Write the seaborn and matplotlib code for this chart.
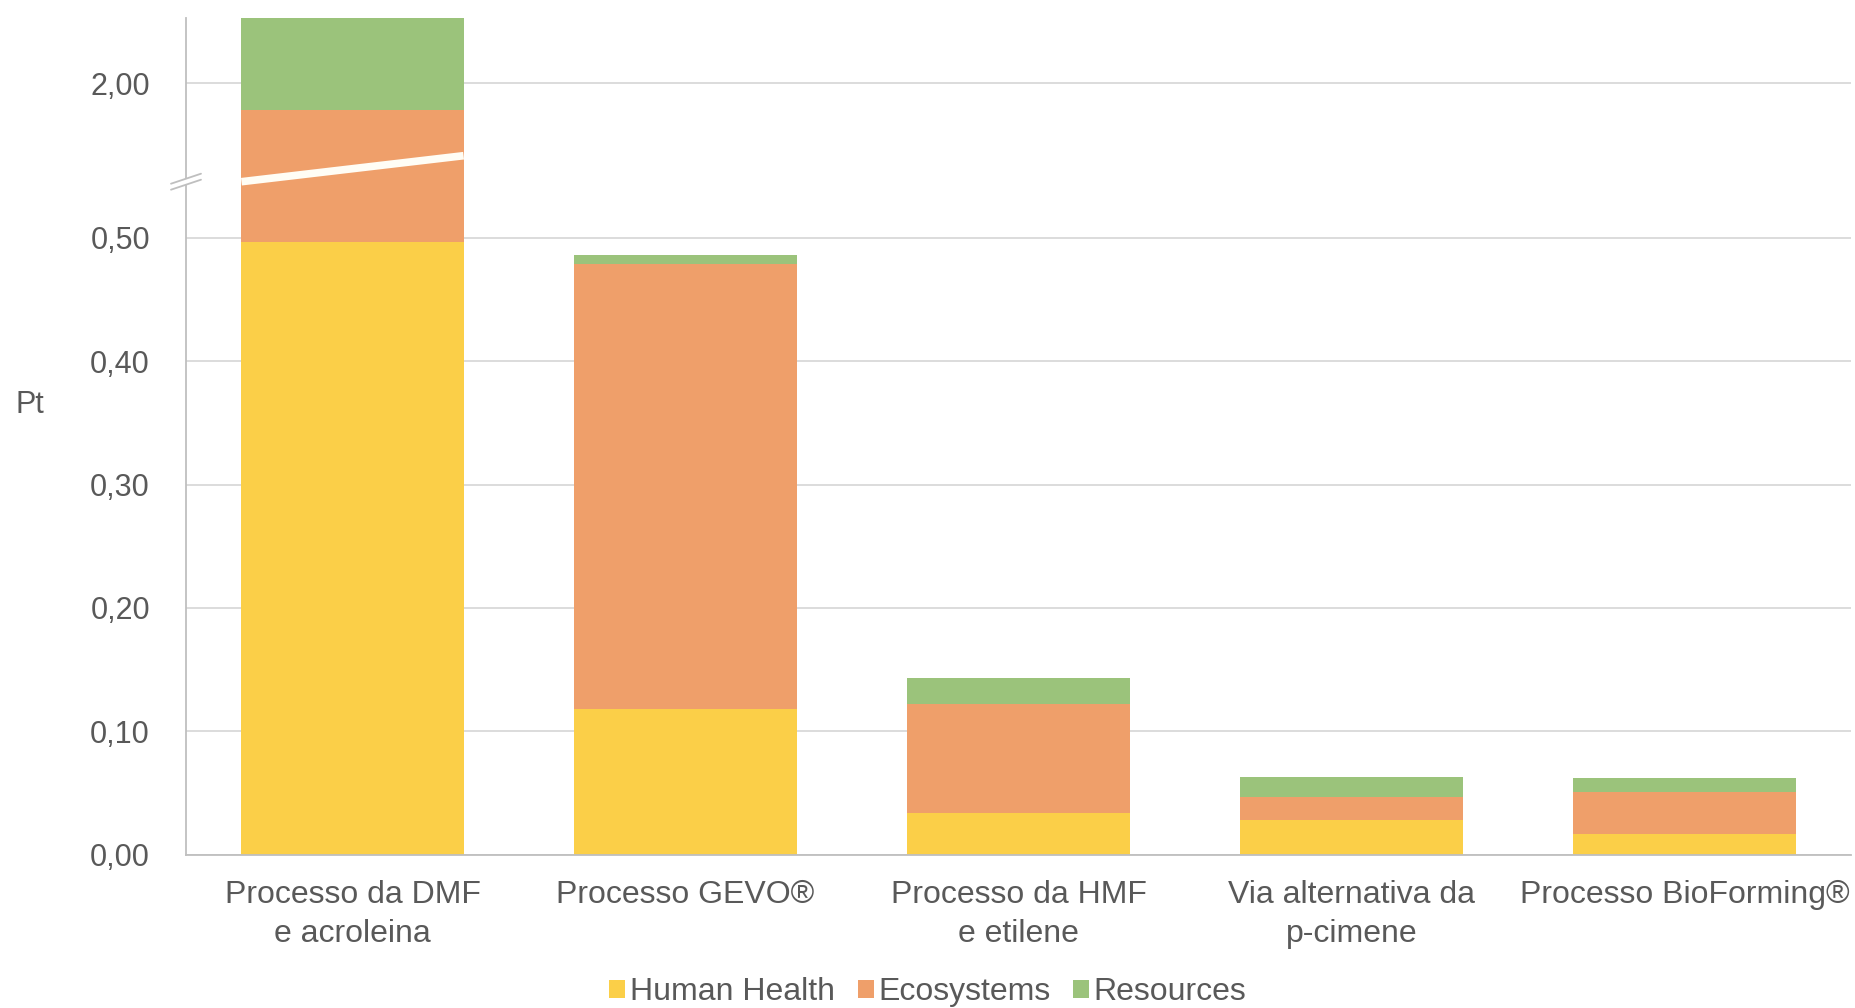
import numpy as np
import pandas as pd
import matplotlib
matplotlib.use("Agg")
import matplotlib.pyplot as plt
import matplotlib.transforms as mtransforms
from matplotlib.patches import Patch, Polygon
from matplotlib.ticker import FixedLocator, FuncFormatter
import seaborn as sns

# ---- data -------------------------------------------------------------
categories = [
    "Processo da DMF\ne acroleina",
    "Processo GEVO®",
    "Processo da HMF\ne etilene",
    "Via alternativa da\np-cimene",
    "Processo BioForming®",
]
human_health = [0.497, 0.118, 0.034, 0.028, 0.017]
ecosystems = [1.481, 0.361, 0.088, 0.019, 0.034]
resources = [0.075, 0.007, 0.021, 0.016, 0.011]
series_names = ["Human Health", "Ecosystems", "Resources"]
y_ticks = [0.0, 0.1, 0.2, 0.3, 0.4, 0.5, 2.0]

# ---- style -------------------------------------------------------------
colors = {"Human Health": "#FBCF48", "Ecosystems": "#EF9F6A", "Resources": "#9BC37B"}
text_color = "#595959"
grid_color = "#D9D9D9"
spine_color = "#BFBFBF"

sns.set_theme(style="white")
plt.rcParams["font.family"] = ["Liberation Sans", "DejaVu Sans"]

# ---- broken y scale: the range between the two limits is squeezed flat
break_low, break_high, squeeze = 0.545, 1.921, 1e-3
gap_top = break_low + (break_high - break_low) * squeeze


def forward(y):
    y = np.asarray(y, dtype=float)
    return np.where(
        y <= break_low, y,
        np.where(y < break_high,
                 break_low + (y - break_low) * squeeze,
                 gap_top + (y - break_high)))


def inverse(z):
    z = np.asarray(z, dtype=float)
    return np.where(
        z <= break_low, z,
        np.where(z < gap_top,
                 break_low + (z - break_low) / squeeze,
                 break_high + (z - gap_top)))


df = pd.DataFrame({
    "category": categories,
    "Human Health": human_health,
    "Ecosystems": ecosystems,
    "Resources": resources,
})
df["cum_hh"] = df["Human Health"]
df["cum_eco"] = df["cum_hh"] + df["Ecosystems"]
df["cum_res"] = df["cum_eco"] + df["Resources"]

W, H = 1856, 1008
fig = plt.figure(figsize=(W / 100, H / 100), dpi=100)
ax = fig.add_axes([186 / W, 1 - 854.6 / H, (1851 - 186) / W, (854.6 - 18) / H])

bar_width = 0.667
# stacked bars: draw cumulative totals from the top layer down
for col, name in [("cum_res", "Resources"), ("cum_eco", "Ecosystems"), ("cum_hh", "Human Health")]:
    sns.barplot(data=df, x="category", y=col, color=colors[name], saturation=1,
                width=bar_width, linewidth=0, ax=ax, zorder=2)

ax.set_yscale("function", functions=(forward, inverse))
ax.set_ylim(0, df["cum_res"].max())
ax.set_xlim(-0.5, len(categories) - 0.5)

ax.yaxis.set_major_locator(FixedLocator(y_ticks))
ax.yaxis.set_minor_locator(FixedLocator([]))
ax.yaxis.set_major_formatter(FuncFormatter(lambda v, p: f"{v:.2f}".replace(".", ",")))
ax.grid(axis="y", color=grid_color, linewidth=1.3, zorder=0)
ax.grid(axis="x", visible=False)
ax.set_axisbelow(True)

ax.tick_params(axis="y", length=0, pad=26, labelsize=22, labelcolor=text_color)
ax.tick_params(axis="x", length=0, pad=18.5, labelsize=23, labelcolor=text_color)
for lbl in ax.get_xticklabels():
    lbl.set_linespacing(1.38)
ax.set_xlabel("")
ax.set_ylabel("")

for side in ["top", "right"]:
    ax.spines[side].set_visible(False)
for side in ["left", "bottom"]:
    ax.spines[side].set_color(spine_color)
    ax.spines[side].set_linewidth(1.3)

# break marks: white cut across the first bar and a zig-zag on the axis
axes_h = 854.6 - 18
axes_w = 1851 - 186
y_break = (854.6 - 181.7) / axes_h
y_break_right = (854.6 - 155.7) / axes_h
blend = mtransforms.blended_transform_factory(ax.transData, ax.transAxes)
ax.plot([-bar_width / 2, bar_width / 2], [y_break, y_break_right], transform=blend,
        color="#FFFDF5", linewidth=5.5, solid_capstyle="butt", zorder=5, clip_on=False)

dx = 15 / axes_w
dy = 5 / axes_h
sep = 3 / axes_h
gap = Polygon([(-dx, y_break - dy - sep), (dx, y_break + dy - sep),
               (dx, y_break + dy + sep), (-dx, y_break - dy + sep)],
              closed=True, transform=ax.transAxes, facecolor="white",
              edgecolor="none", zorder=6, clip_on=False)
ax.add_patch(gap)
for s in (-sep, sep):
    ax.plot([-dx, dx], [y_break - dy + s, y_break + dy + s], transform=ax.transAxes,
            color=spine_color, linewidth=1.3, zorder=7, clip_on=False)

fig.text(30 / W, 1 - 405 / H, "Pt", ha="center", va="center", fontsize=22, color=text_color)

handles = [Patch(facecolor=colors[n], edgecolor="none", label=n) for n in series_names]
leg = fig.legend(handles=handles, loc="center", bbox_to_anchor=(0.5, 1 - 992 / H),
                 ncol=3, frameon=False, fontsize=23, handlelength=0.5, handleheight=0.5,
                 handletextpad=0.15, columnspacing=0.7, borderaxespad=0, borderpad=0)
for t in leg.get_texts():
    t.set_color(text_color)

fig.savefig("out.png", dpi=100, facecolor="white")
